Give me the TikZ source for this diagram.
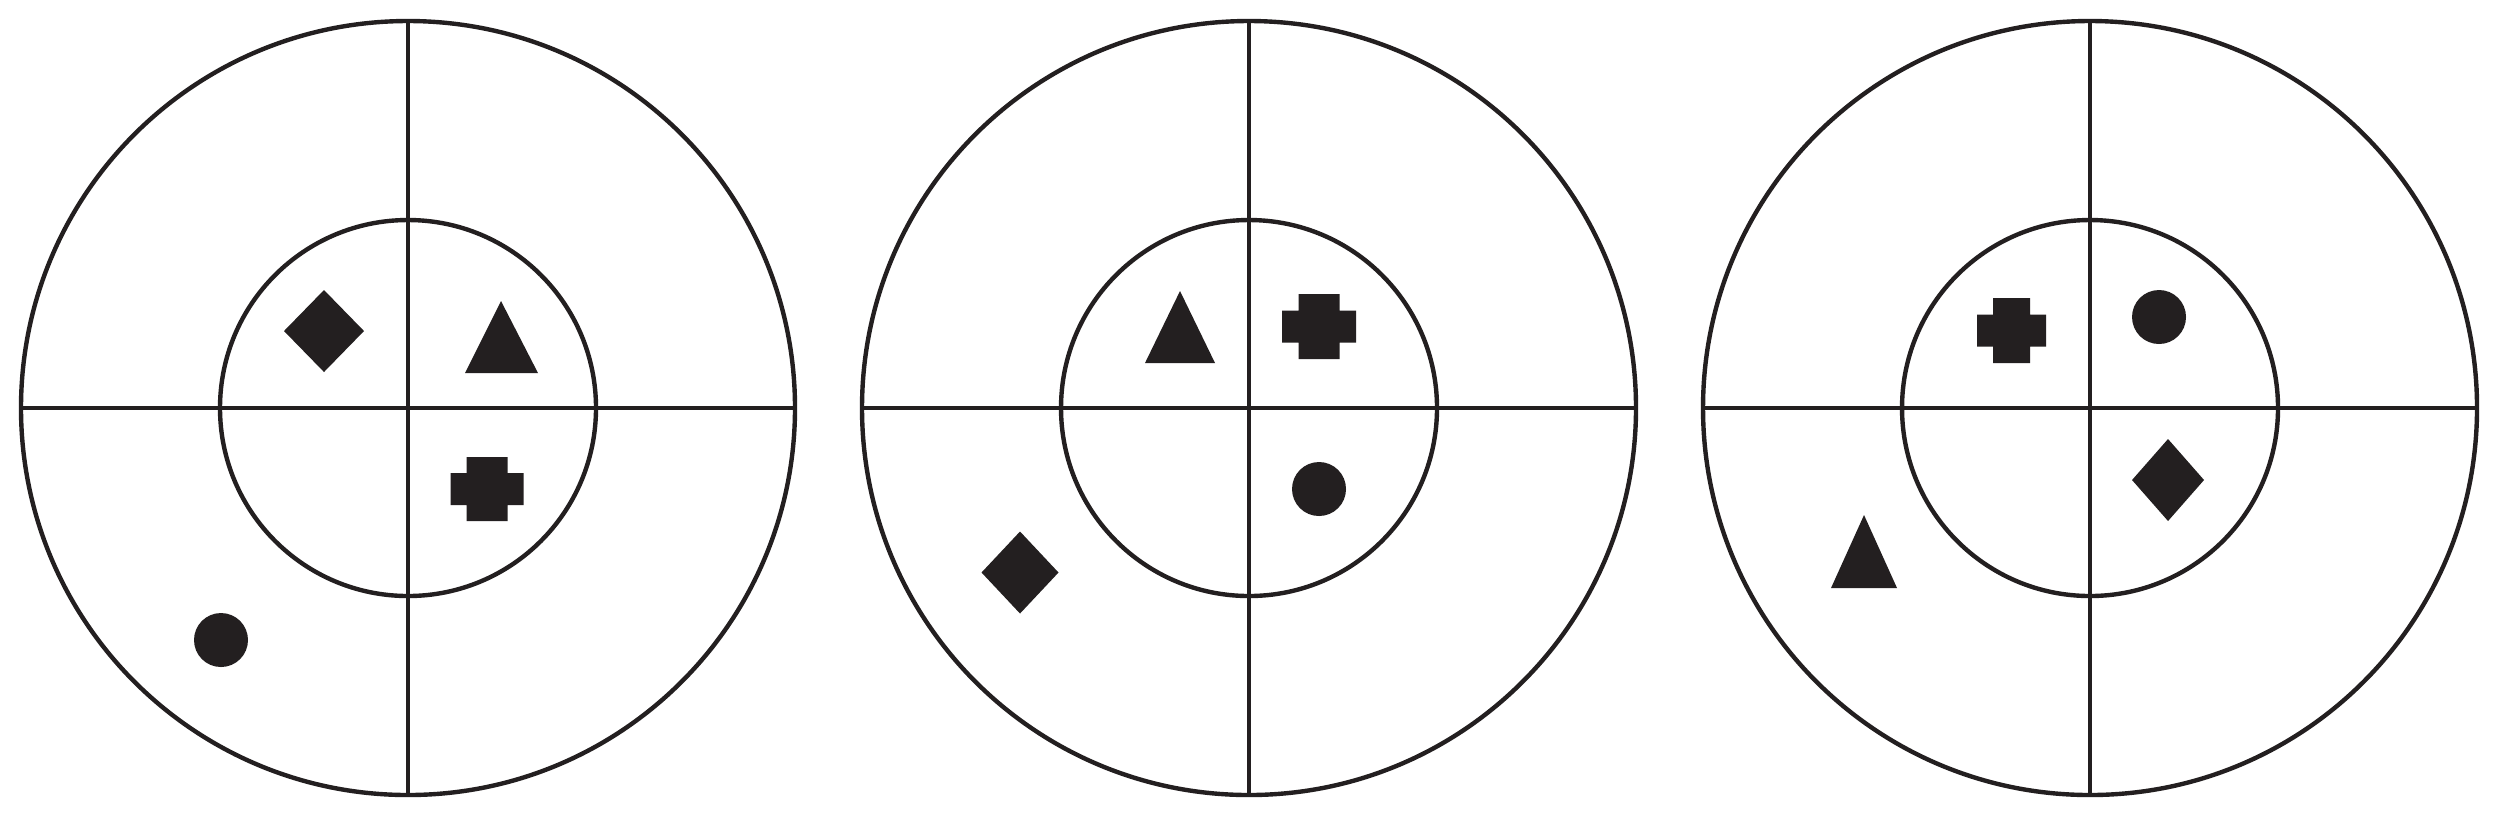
\documentclass[tikz,border=0pt]{standalone}
\definecolor{ink}{HTML}{231F20}
\newcommand\crossshape[6]{% cx cy halfw halfh armhalfw armhalfh
  \fill[ink] ({#1-#5},{#2-#4}) -- ({#1+#5},{#2-#4}) -- ({#1+#5},{#2-#6}) -- ({#1+#3},{#2-#6}) -- ({#1+#3},{#2+#6}) -- ({#1+#5},{#2+#6}) -- ({#1+#5},{#2+#4}) -- ({#1-#5},{#2+#4}) -- ({#1-#5},{#2+#6}) -- ({#1-#3},{#2+#6}) -- ({#1-#3},{#2-#6}) -- ({#1-#5},{#2-#6}) -- cycle;}
\newcommand\diamondshape[4]{% cx cy hw hh
  \fill[ink] ({#1},{#2-#4}) -- ({#1+#3},{#2}) -- ({#1},{#2+#4}) -- ({#1-#3},{#2}) -- cycle;}
\newcommand\target[1]{%
  \draw[ring] (#1,408) circle[radius=387];
  \draw[ring] (#1,408) circle[radius=188];
  \draw[axis] (#1,21) -- (#1,795);
  \draw[axis] ({#1-387},408) -- ({#1+387},408);}
\begin{document}
\begin{tikzpicture}[x=0.01cm,y=-0.01cm,
  ring/.style={draw=ink,line width=1.25pt},
  axis/.style={draw=ink,line width=1.15pt}]
\useasboundingbox (0,0) rectangle (2498,817);
\fill[white] (0,0) rectangle (2498,817);
% targets
\target{408}
\target{1249}
\target{2090}
% target 1
\diamondshape{324}{331}{40}{41}
\fill[ink] (501,301) -- (538,373) -- (465,373) -- cycle;
\crossshape{487}{489}{36.5}{32}{20.5}{16}
\fill[ink] (221,640) circle[radius=27];
% target 2
\fill[ink] (1180,291) -- (1215,363) -- (1145,363) -- cycle;
\crossshape{1319}{326.5}{37}{32.5}{20.5}{16}
\fill[ink] (1319,489) circle[radius=27];
\diamondshape{1020}{572.5}{38.5}{41}
% target 3
\crossshape{2011.5}{330.5}{34.5}{32.5}{18.5}{16}
\fill[ink] (2159,317) circle[radius=27];
\diamondshape{2168}{480}{36}{41}
\fill[ink] (1864,515) -- (1897,588) -- (1831,588) -- cycle;
\end{tikzpicture}
\end{document}
